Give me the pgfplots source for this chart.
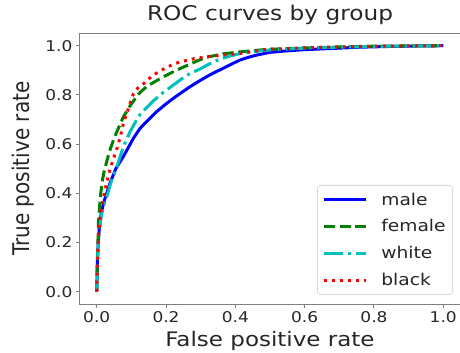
\documentclass[border=0pt]{standalone}
\usepackage{fontspec}
\setmainfont[FakeStretch=1.15]{DejaVu Sans}
\newfontfamily\yfont[FakeStretch=0.87]{DejaVu Sans}
\usepackage{pgfplots}
\pgfplotsset{compat=1.18}
\definecolor{mplgreen}{RGB}{0,128,0}
\definecolor{mplcyan}{RGB}{0,191,191}
\definecolor{spine}{RGB}{128,128,128}
\definecolor{txt}{RGB}{38,38,38}
\begin{document}
\begin{tikzpicture}
\begin{axis}[
  scale only axis,
  width=381.2pt, height=270.6pt,
  xmin=-0.05, xmax=1.05, ymin=-0.05, ymax=1.05,
  xtick={0,0.2,0.4,0.6,0.8,1.0}, ytick={0,0.2,0.4,0.6,0.8,1.0},
  xticklabel style={/pgf/number format/.cd,fixed,fixed zerofill,precision=1},
  yticklabel style={/pgf/number format/.cd,fixed,fixed zerofill,precision=1},
  /pgf/number format/assume math mode=true,
  tick label style={font=\fontsize{14.8}{18}\selectfont, text=txt},
  tick pos=left, tick align=outside, major tick length=3.5pt,
  axis line style={spine, line width=1pt},
  every tick/.style={spine, line width=1pt},
  title={ROC curves by group},
  title style={at={(axis description cs:0.5,1.0244)}, anchor=base, font=\fontsize{20.2}{24}\selectfont, text=txt},
  xlabel={False positive rate},
  xlabel style={at={(axis description cs:0.5,-0.158)}, anchor=base, font=\fontsize{20}{24}\selectfont, text=txt},
  ylabel={True positive rate},
  ylabel style={at={(axis description cs:-0.1314,0.5)}, anchor=base, font=\yfont\fontsize{23}{27}\selectfont, text=txt},
  legend image code/.code={\draw[#1] (0pt,0pt) -- (42pt,0pt);},
  legend cell align=left,
  legend style={at={(axis description cs:0.980,0.0333)}, anchor=south east,
    draw=black!15, rounded corners=3pt, fill=white, line width=0.8pt,
    font=\fontsize{16.2}{20}\selectfont, text=txt,
    inner xsep=5pt, inner ysep=5.5pt, row sep=9pt,
    /tikz/every odd column/.append style={column sep=12pt}},
  line cap=butt,
]
\addplot[blue, line width=3pt] coordinates {
(0,0) (0.001,0.06) (0.002,0.12) (0.004,0.19) (0.007,0.25) (0.012,0.31) (0.018,0.35) (0.024,0.38) (0.038,0.44) (0.055,0.50) (0.077,0.55) (0.106,0.624) (0.125,0.664) (0.15,0.70) (0.173,0.732) (0.197,0.76) (0.221,0.786) (0.245,0.81) (0.269,0.833) (0.293,0.854) (0.317,0.874) (0.341,0.892) (0.365,0.908) (0.39,0.926) (0.414,0.942) (0.438,0.953) (0.462,0.962) (0.5,0.973) (0.539,0.978) (0.6,0.984) (0.683,0.989) (0.76,0.994) (0.85,0.997) (0.93,0.999) (1.0,1.0)
};
\addlegendentry{male}
\addplot[mplgreen, line width=3pt, dash pattern=on 11pt off 4.8pt] coordinates {
(0,0) (0.001,0.08) (0.003,0.18) (0.005,0.28) (0.01,0.38) (0.015,0.44) (0.02,0.48) (0.029,0.53) (0.038,0.575) (0.048,0.615) (0.058,0.65) (0.077,0.711) (0.096,0.755) (0.115,0.793) (0.125,0.81) (0.145,0.835) (0.163,0.85) (0.19,0.872) (0.221,0.894) (0.245,0.91) (0.269,0.925) (0.293,0.94) (0.317,0.953) (0.365,0.967) (0.414,0.975) (0.49,0.985) (0.6,0.991) (0.7,0.995) (0.8,0.998) (0.9,0.999) (1,1)
};
\addlegendentry{female}
\addplot[mplcyan, line width=3pt, dash pattern=on 19.2pt off 4.8pt on 3pt off 4.8pt] coordinates {
(0,0) (0.001,0.07) (0.003,0.15) (0.006,0.23) (0.012,0.30) (0.02,0.35) (0.029,0.386) (0.04,0.44) (0.058,0.508) (0.077,0.59) (0.096,0.65) (0.115,0.698) (0.125,0.72) (0.145,0.75) (0.163,0.775) (0.19,0.808) (0.221,0.84) (0.245,0.865) (0.269,0.887) (0.298,0.905) (0.317,0.92) (0.341,0.937) (0.365,0.95) (0.39,0.96) (0.414,0.968) (0.46,0.977) (0.5,0.983) (0.6,0.99) (0.7,0.994) (0.8,0.997) (0.9,0.999) (1,1)
};
\addlegendentry{white}
\addplot[red, line width=3pt, dash pattern=on 3pt off 5pt] coordinates {
(0,0) (0.001,0.08) (0.003,0.16) (0.006,0.24) (0.01,0.30) (0.014,0.34) (0.019,0.38) (0.028,0.44) (0.038,0.495) (0.048,0.54) (0.058,0.58) (0.068,0.63) (0.077,0.685) (0.087,0.725) (0.096,0.766) (0.106,0.805) (0.12,0.83) (0.135,0.845) (0.15,0.865) (0.163,0.88) (0.18,0.895) (0.202,0.912) (0.225,0.927) (0.25,0.937) (0.28,0.947) (0.317,0.955) (0.365,0.962) (0.414,0.969) (0.49,0.985) (0.6,0.991) (0.7,0.995) (0.8,0.998) (0.9,0.999) (1,1)
};
\addlegendentry{black}
\end{axis}
\pgfresetboundingbox
\path[use as bounding box] (-79.4pt,-49pt) rectangle (380.6pt,304pt);
\end{tikzpicture}
\end{document}
